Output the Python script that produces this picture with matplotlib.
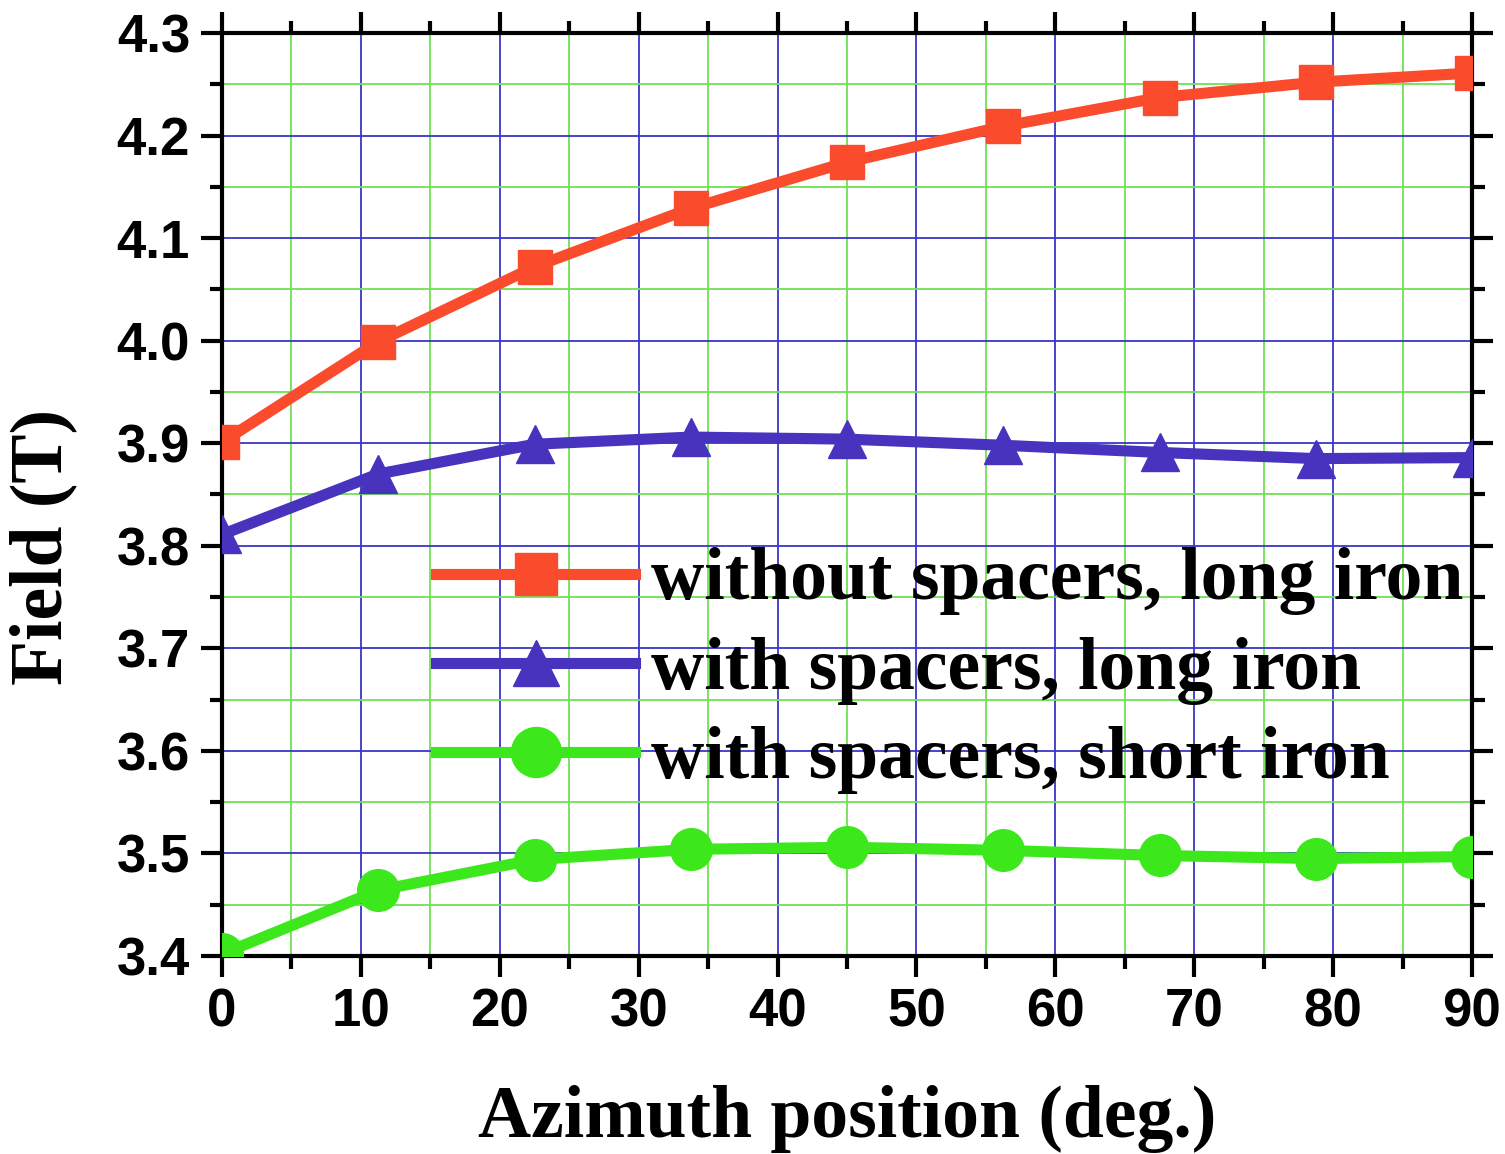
import matplotlib
matplotlib.use("Agg")
import matplotlib.pyplot as plt
from matplotlib.ticker import MultipleLocator

# ---- data ----
azimuth = [0, 11.25, 22.5, 33.75, 45, 56.25, 67.5, 78.75, 90]
no_spacers_long = [3.901, 3.999, 4.072, 4.129, 4.174, 4.209, 4.237, 4.252, 4.261]
spacers_long = [3.811, 3.870, 3.899, 3.906, 3.904, 3.898, 3.891, 3.885, 3.886]
spacers_short = [3.402, 3.464, 3.494, 3.504, 3.506, 3.503, 3.498, 3.495, 3.497]
labels = ["without spacers, long iron", "with spacers, long iron", "with spacers, short iron"]
x_ticks = [0, 10, 20, 30, 40, 50, 60, 70, 80, 90]
y_ticks = [3.4, 3.5, 3.6, 3.7, 3.8, 3.9, 4.0, 4.1, 4.2, 4.3]

W, H = 1505, 1154
fig = plt.figure(figsize=(W / 100, H / 100), dpi=100)
ax = fig.add_axes([222 / W, (H - 956) / H, (1472 - 222) / W, (956 - 33) / H])

red = "#fb4b2d"
blue = "#4833bf"
green = "#3ce81c"

ax.plot(azimuth, no_spacers_long, color=red, lw=8, marker="s", ms=25, label=labels[0], zorder=5)
ax.plot(azimuth, spacers_long, color=blue, lw=8, marker="^", ms=28, label=labels[1], zorder=5)
ax.plot(azimuth, spacers_short, color=green, lw=8, marker="o", ms=30, label=labels[2], zorder=5)

ax.set_xlim(0, 90)
ax.set_ylim(3.4, 4.3)
ax.set_xticks(x_ticks)
ax.set_yticks(y_ticks)
ax.set_xticklabels([str(v) for v in x_ticks])
ax.set_yticklabels([f"{v:.1f}" for v in y_ticks])
ax.xaxis.set_minor_locator(MultipleLocator(5))
ax.yaxis.set_minor_locator(MultipleLocator(0.05))

ax.grid(which="major", color="#3a36c8", lw=1.3, zorder=1)
ax.grid(which="minor", color="#6fe053", lw=1.3, zorder=0)
ax.set_axisbelow(True)

for s in ax.spines.values():
    s.set_linewidth(3)
ax.tick_params(which="both", direction="out", top=True, right=True, width=3)
ax.tick_params(which="major", length=15, pad=8)
ax.tick_params(which="minor", length=9)
ax.tick_params(axis="y", which="both", labelright=False)
ax.tick_params(axis="x", which="both", labeltop=False)

for lab in ax.get_xticklabels() + ax.get_yticklabels():
    lab.set_fontfamily("Liberation Sans")
    lab.set_fontweight("bold")
    lab.set_fontsize(38)

ax.set_xlabel("Azimuth position (deg.)", family="Liberation Serif", weight="bold", fontsize=53)
ax.xaxis.set_label_coords(0.5, -0.14)
ax.set_ylabel("Field (T)", family="Liberation Serif", weight="bold", fontsize=53)
ax.yaxis.set_label_coords(-0.116, 0.443)

leg = ax.legend(loc="upper left", bbox_to_anchor=(0.148, 0.4745), frameon=False,
                prop=dict(family="Liberation Serif", weight="bold", size=53),
                handlelength=2.7, handletextpad=0.22, labelspacing=0.29,
                borderaxespad=0, markerscale=1.2)

fig.savefig("out.png", dpi=100, facecolor="white")
